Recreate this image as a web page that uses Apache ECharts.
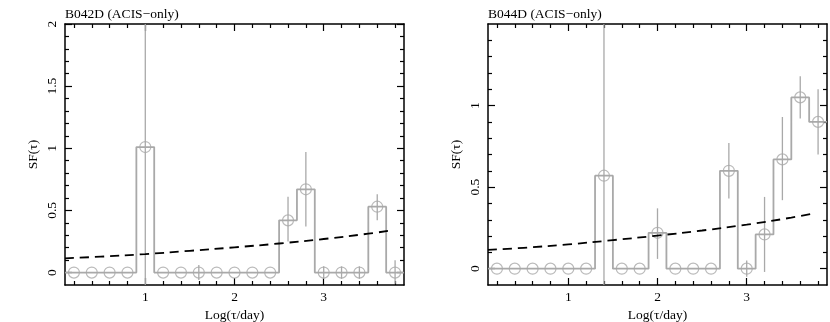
<!DOCTYPE html>
<html>
<head>
<meta charset="utf-8">
<script src="https://cdn.jsdelivr.net/npm/echarts@6/dist/echarts.min.js"></script>
<style>
  html, body { margin: 0; padding: 0; background: #fff; }
  #chart { width: 830px; height: 322px; }
</style>
</head>
<body>
<div id="chart"></div>
<script>
// bin centres, Log(tau/day), bins are 0.2 wide
var binCenters = [0.2, 0.4, 0.6, 0.8, 1.0, 1.2, 1.4, 1.6, 1.8, 2.0, 2.2, 2.4, 2.6, 2.8, 3.0, 3.2, 3.4, 3.6, 3.8]
var binWidth = 0.2

// B042D
var leftSF    = [0, 0, 0, 0, 1.01, 0, 0, 0, 0, 0, 0, 0, 0.42, 0.67, 0, 0, 0, 0.53, 0]
var leftErrLo = [null, null, null, null, -0.12, null, null, -0.06, null, null, null, null, 0.25, 0.37, -0.05, -0.05, -0.05, 0.42, -0.09]
var leftErrHi = [null, null, null, null, 2.4, null, null, 0.06, null, null, null, null, 0.61, 0.97, 0.05, 0.05, 0.05, 0.63, 0.1]

// B044D
var rightSF    = [0, 0, 0, 0, 0, 0, 0.57, 0, 0, 0.22, 0, 0, 0, 0.6, 0, 0.21, 0.67, 1.05, 0.9]
var rightErrLo = [null, null, null, null, null, null, -0.12, null, null, 0.06, null, null, null, 0.43, -0.05, -0.02, 0.42, 0.92, 0.7]
var rightErrHi = [null, null, null, null, null, null, 1.9, null, null, 0.37, null, null, null, 0.77, 0.05, 0.44, 0.93, 1.18, 1.1]

// dashed model curve
var modelX = [0.1, 0.5, 1.0, 1.5, 2.0, 2.5, 3.0, 3.5, 3.75]
var modelY = [0.115, 0.128, 0.149, 0.175, 0.203, 0.234, 0.27, 0.313, 0.338]

// ticks / labels
var xMajor = [1, 2, 3]
var xMinor = [0.2, 0.4, 0.6, 0.8, 1.2, 1.4, 1.6, 1.8, 2.2, 2.4, 2.6, 2.8, 3.2, 3.4, 3.6, 3.8]
var leftYMajor = [0, 0.5, 1, 1.5, 2]
var rightYMajor = [0, 0.5, 1]
var rightYLabels = [0, 0.5, 1]
var yMinorLeft = [0.1, 0.2, 0.3, 0.4, 0.6, 0.7, 0.8, 0.9, 1.1, 1.2, 1.3, 1.4, 1.6, 1.7, 1.8, 1.9]
var yMinorRight = [0.1, 0.2, 0.3, 0.4, 0.6, 0.7, 0.8, 0.9, 1.1, 1.2, 1.3, 1.4]

var FONT = 'Liberation Serif'
var GRAY = '#a9a9a9'

function xAxes(gridIndex) {
    var base = {
        gridIndex: gridIndex, type: 'value', min: 0.1, max: 3.9,
        splitLine: { show: false }
    }
    return [
        Object.assign({}, base, {
            position: 'bottom',
            name: 'Log(τ/day)', nameLocation: 'middle', nameGap: 22,
            nameTextStyle: { fontFamily: FONT, fontSize: 13.5, color: '#000' },
            axisLine: { show: true, onZero: false, lineStyle: { color: '#000', width: 1.5 } },
            axisTick: { inside: true, length: 7, customValues: xMajor, lineStyle: { color: '#000', width: 1.2 } },
            axisLabel: { customValues: xMajor, margin: 5, fontFamily: FONT, fontSize: 13.5, color: '#000' }
        }),
        Object.assign({}, base, {
            position: 'bottom',
            axisLine: { show: false, onZero: false },
            axisTick: { inside: true, length: 4, customValues: xMinor, lineStyle: { color: '#000', width: 1.2 } },
            axisLabel: { show: false }
        }),
        Object.assign({}, base, {
            position: 'top',
            axisLine: { show: true, onZero: false, lineStyle: { color: '#000', width: 1.5 } },
            axisTick: { inside: true, length: 7, customValues: xMajor, lineStyle: { color: '#000', width: 1.2 } },
            axisLabel: { show: false }
        }),
        Object.assign({}, base, {
            position: 'top',
            axisLine: { show: false, onZero: false },
            axisTick: { inside: true, length: 4, customValues: xMinor, lineStyle: { color: '#000', width: 1.2 } },
            axisLabel: { show: false }
        })
    ]
}

function yAxes(gridIndex, max, major, labels, minor) {
    var base = {
        gridIndex: gridIndex, type: 'value', min: -0.1, max: max,
        splitLine: { show: false }
    }
    return [
        Object.assign({}, base, {
            position: 'left',
            name: 'SF(τ)', nameLocation: 'middle', nameGap: 25, nameRotate: 90,
            nameTextStyle: { fontFamily: FONT, fontSize: 13.5, color: '#000' },
            axisLine: { show: true, onZero: false, lineStyle: { color: '#000', width: 1.5 } },
            axisTick: { inside: true, length: 7, customValues: major, lineStyle: { color: '#000', width: 1.2 } },
            axisLabel: { customValues: labels, rotate: 90, margin: 6, fontFamily: FONT, fontSize: 13.5, color: '#000' }
        }),
        Object.assign({}, base, {
            position: 'left',
            axisLine: { show: false, onZero: false },
            axisTick: { inside: true, length: 4, customValues: minor, lineStyle: { color: '#000', width: 1.2 } },
            axisLabel: { show: false }
        }),
        Object.assign({}, base, {
            position: 'right',
            axisLine: { show: true, onZero: false, lineStyle: { color: '#000', width: 1.5 } },
            axisTick: { inside: true, length: 7, customValues: major, lineStyle: { color: '#000', width: 1.2 } },
            axisLabel: { show: false }
        }),
        Object.assign({}, base, {
            position: 'right',
            axisLine: { show: false, onZero: false },
            axisTick: { inside: true, length: 4, customValues: minor, lineStyle: { color: '#000', width: 1.2 } },
            axisLabel: { show: false }
        })
    ]
}

function panelSeries(gridIndex, sf, errLo, errHi) {
    var ax = gridIndex * 4
    // histogram outline from bin edges
    var stepData = []
    var points = []
    var errData = []
    for (var i = 0; i < binCenters.length; i++) {
        stepData.push([binCenters[i] - binWidth / 2, sf[i]])
        stepData.push([binCenters[i] + binWidth / 2, sf[i]])
        points.push([binCenters[i], sf[i]])
        if (errLo[i] !== null) errData.push([binCenters[i], errLo[i], errHi[i]])
    }
    var model = modelX.map(function (x, i) { return [x, modelY[i]] })
    return [
        {
            type: 'line', xAxisIndex: ax, yAxisIndex: ax, data: stepData,
            symbol: 'none', silent: true, animation: false,
            lineStyle: { color: GRAY, width: 1.8 }, z: 2
        },
        {
            type: 'custom', xAxisIndex: ax, yAxisIndex: ax, data: errData, animation: false,
            renderItem: function (params, api) {
                var cs = params.coordSys
                var p1 = api.coord([api.value(0), api.value(1)])
                var p2 = api.coord([api.value(0), api.value(2)])
                var yTop = Math.max(p2[1], cs.y)
                var yBot = Math.min(p1[1], cs.y + cs.height)
                return {
                    type: 'line',
                    shape: { x1: p1[0], y1: yBot, x2: p2[0], y2: yTop },
                    style: { stroke: GRAY, lineWidth: 1.3 }
                }
            },
            z: 3
        },
        {
            type: 'scatter', xAxisIndex: ax, yAxisIndex: ax, data: points,
            symbol: 'circle', symbolSize: 11, animation: false,
            itemStyle: { color: 'rgba(0,0,0,0)', borderColor: GRAY, borderWidth: 1.2 }, z: 4
        },
        {
            type: 'line', xAxisIndex: ax, yAxisIndex: ax, data: model, smooth: true,
            symbol: 'none', animation: false,
            lineStyle: { color: '#000', width: 1.8, type: [9, 6] }, z: 5
        }
    ]
}

var chart = echarts.init(document.getElementById('chart'), null, { renderer: 'canvas' })
chart.setOption({
    backgroundColor: '#fff',
    animation: false,
    title: [
        { text: 'B042D (ACIS−only)', left: 65, top: 7, padding: 0, textStyle: { fontFamily: FONT, fontSize: 13.5, fontWeight: 'normal', color: '#000' } },
        { text: 'B044D (ACIS−only)', left: 488, top: 7, padding: 0, textStyle: { fontFamily: FONT, fontSize: 13.5, fontWeight: 'normal', color: '#000' } }
    ],
    grid: [
        { left: 65, right: 426, top: 24, bottom: 37, containLabel: false, outerBoundsMode: 'none' },
        { left: 488, right: 3, top: 24, bottom: 37, containLabel: false, outerBoundsMode: 'none' }
    ],
    xAxis: xAxes(0).concat(xAxes(1)),
    yAxis: yAxes(0, 2, leftYMajor, leftYMajor, yMinorLeft).concat(yAxes(1, 1.5, rightYMajor, rightYLabels, yMinorRight)),
    series: panelSeries(0, leftSF, leftErrLo, leftErrHi).concat(panelSeries(1, rightSF, rightErrLo, rightErrHi))
})
</script>
</body>
</html>
